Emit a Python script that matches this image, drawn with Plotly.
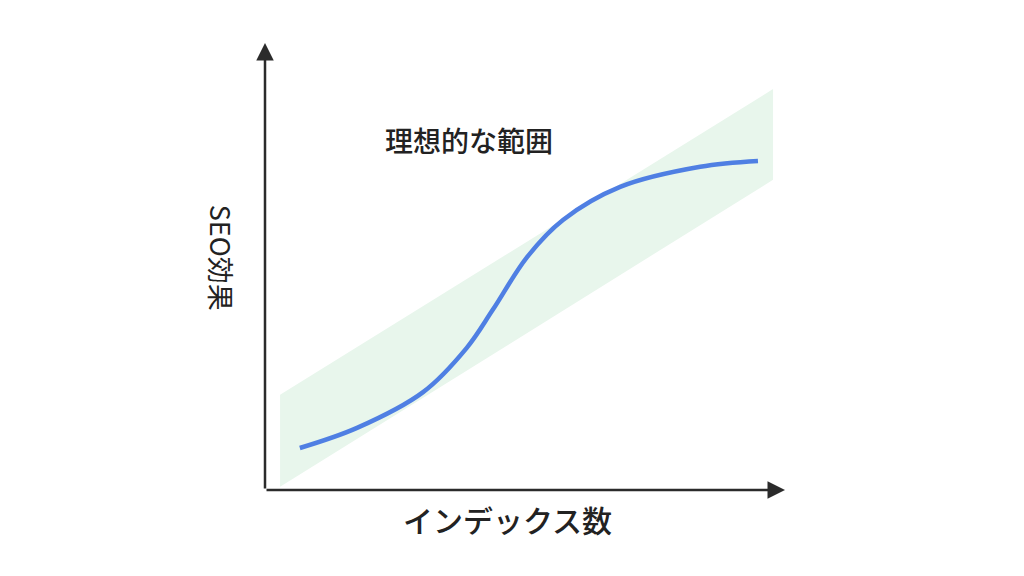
import plotly.graph_objects as go

# S-curve: SEO effect vs number of indexed pages (arbitrary units 0-10)
curve_x = [0.67, 1.77, 3.04, 3.88, 4.38, 5.04, 5.73, 6.83, 8.37, 9.48]
curve_y = [0.94, 1.39, 2.19, 3.18, 4.03, 5.21, 6.04, 6.78, 7.23, 7.36]

# Ideal range band (parallelogram corners)
band_x = [0.29, 0.29, 9.77, 9.77]
band_y = [0.07, 2.13, 8.97, 6.94]

band_label = "理想的な範囲"
x_label = "インデックス数"
y_label = "SEO効果"

FONT = "Noto Sans CJK JP"

fig = go.Figure()

fig.add_trace(go.Scatter(
    x=band_x + band_x[:1],
    y=band_y + band_y[:1],
    fill='toself',
    fillcolor='#E8F6EC',
    line=dict(width=0, color='rgba(0,0,0,0)'),
    mode='lines',
    hoverinfo='skip',
    showlegend=False
))

fig.add_trace(go.Scatter(
    x=curve_x,
    y=curve_y,
    mode='lines',
    line=dict(color='#4F7FE3', width=4.5, shape='spline', smoothing=1.0),
    showlegend=False
))

# page body adds an 8px offset, so margins are shifted to compensate
fig.update_layout(
    width=1024,
    height=576,
    margin=dict(l=257, r=247, t=35, b=94),
    plot_bgcolor='white',
    paper_bgcolor='white',
    xaxis=dict(range=[0, 10], visible=False, fixedrange=True),
    yaxis=dict(range=[0, 10], visible=False, fixedrange=True),
    annotations=[
        # x axis arrow
        dict(x=10.0, y=0, ax=0, ay=0, xref='x', yref='y', axref='x', ayref='y',
             text='', showarrow=True, arrowhead=2, arrowsize=1.4, arrowwidth=2.5,
             arrowcolor='#2B2B2B'),
        # y axis arrow
        dict(x=0, y=10.0, ax=0, ay=0, xref='x', yref='y', axref='x', ayref='y',
             text='', showarrow=True, arrowhead=2, arrowsize=1.4, arrowwidth=2.5,
             arrowcolor='#2B2B2B'),
        dict(x=3.93, y=7.82, xref='x', yref='y', text=band_label, showarrow=False,
             font=dict(family=FONT, size=28, color='#222222', weight=500)),
        dict(x=0.467, y=-0.065, xref='paper', yref='paper', yanchor='middle',
             text=x_label, showarrow=False,
             font=dict(family=FONT, size=30, color='#222222', weight=500)),
        dict(x=-0.083, y=0.52, xref='paper', yref='paper', xanchor='center',
             text=y_label, showarrow=False, textangle=90,
             font=dict(family=FONT, size=27, color='#222222')),
    ]
)

fig.write_html("out.html")
